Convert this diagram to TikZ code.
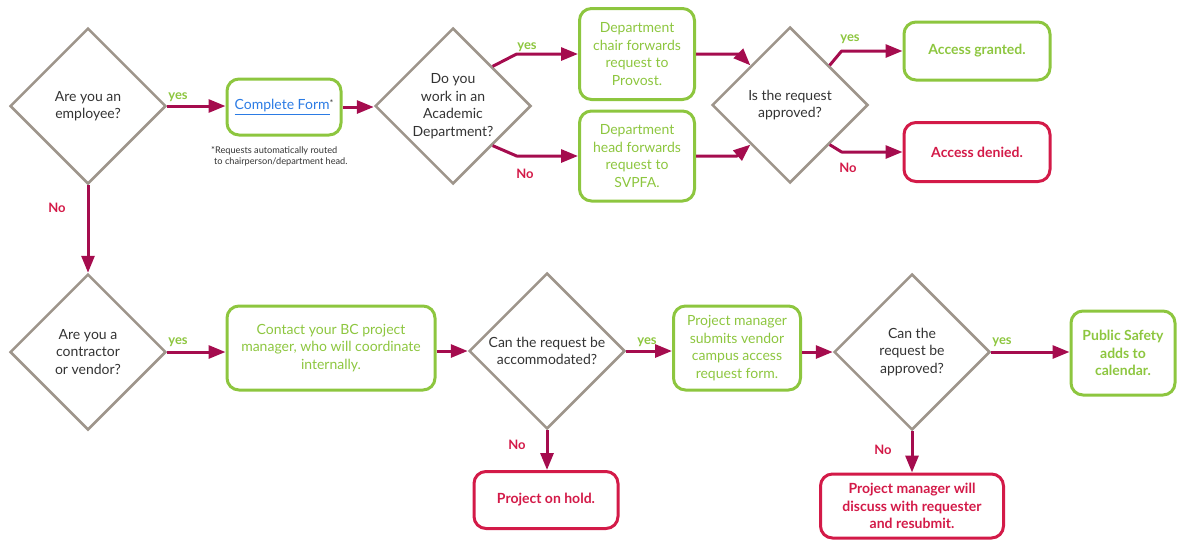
\documentclass[tikz,border=0pt]{standalone}
\usepackage{fontspec}
\setmainfont{Lato}
\usetikzlibrary{shapes.geometric,arrows.meta}
\definecolor{leafgreen}{HTML}{8DC63F}
\definecolor{alertred}{HTML}{D31A48}
\definecolor{wine}{HTML}{A50C4E}
\definecolor{stonegray}{HTML}{9E958B}
\definecolor{inkgray}{HTML}{333333}
\definecolor{linkblue}{HTML}{2B7BE4}
\newcommand\flowsize{\fontsize{14}{17.5}\selectfont}
\tikzset{
  decision/.style={diamond, draw=stonegray, line width=2.5pt, aspect=1, inner sep=0pt,
    minimum width=156pt, minimum height=156pt, align=center, text=inkgray},
  stepbox/.style={draw=leafgreen, line width=3pt, rounded corners=12pt, align=center,
    text=leafgreen, inner sep=2pt},
  stopbox/.style={draw=alertred, line width=3pt, rounded corners=12pt, align=center,
    text=alertred, font=\flowsize\bfseries, inner sep=2pt},
  flow/.style={draw=wine, line width=3pt, line join=round, -{Triangle[length=17pt,width=13pt]}},
  yeslabel/.style={text=leafgreen, font=\fontsize{13}{15}\selectfont\bfseries},
  nolabel/.style={text=alertred, font=\fontsize{13}{15}\selectfont\bfseries},
}
\begin{document}
\begin{tikzpicture}[x=1pt, y=-1pt, font=\flowsize]
	\useasboundingbox (0,0) rectangle (1178,541);
	% employee branch
	\node[decision] (employee) at (88,106) {Are you an\\employee?};
	\node[stepbox, minimum width=114pt, minimum height=56pt] (form) at (284,107)
		{\textcolor{linkblue}{\underline{Complete Form}}\textcolor{inkgray}{\raisebox{3pt}{\small*}}};
	\node[anchor=north west, align=left, text=inkgray, inner sep=0pt,
		font=\fontsize{9.2}{11.5}\selectfont] (note) at (211,146)
		{*Requests automatically routed\\\hspace{3pt}to chairperson/department head.};
	\node[decision] (dept) at (453,106) {Do you\\work in an\\Academic\\Department?};
	\node[stepbox, minimum width=115pt, minimum height=91pt] (chair) at (637,54)
		{Department\\chair forwards\\request to\\Provost.};
	\node[stepbox, minimum width=115pt, minimum height=90pt] (head) at (637,156)
		{Department\\head forwards\\request to\\SVPFA.};
	\node[decision] (approved) at (790,105) {Is the request\\approved?};
	\node[stepbox, font=\flowsize\bfseries, minimum width=146pt, minimum height=58pt] (granted) at (977,51)
		{Access granted.};
	\node[stopbox, minimum width=146pt, minimum height=59pt] (denied) at (977,152)
		{Access denied.};

	% contractor branch
	\node[decision] (contractor) at (88,352) {Are you a\\contractor\\or vendor?};
	\node[stepbox, minimum width=208pt, minimum height=84pt] (contact) at (331,348)
		{Contact your BC project\\manager, who will coordinate\\internally.};
	\node[decision] (accommodated) at (547,351) {Can the request be\\accommodated?};
	\node[stopbox, minimum width=144pt, minimum height=57pt] (hold) at (546,500)
		{Project on hold.};
	\node[stepbox, minimum width=127pt, minimum height=84pt] (submits) at (737,348)
		{Project manager\\submits vendor\\campus access\\request form.};
	\node[decision] (approvable) at (912,352) {Can the\\request be\\approved?};
	\node[stepbox, font=\flowsize\bfseries, minimum width=104pt, minimum height=84pt] (safety) at (1123,353)
		{Public Safety\\adds to\\calendar.};
	\node[stopbox, minimum width=183pt, minimum height=64pt] (resubmit) at (912,506)
		{Project manager will\\discuss with requester\\and resubmit.};

	% connectors
	\draw[flow] (employee.east) -- (employee.east -| form.west);
	\draw[flow] (form.east) -- (form.east -| dept.west);
	\draw[flow] (dept.north east) -- ([xshift=24pt]dept.north east |- chair.west) -- (chair.west);
	\draw[flow] (dept.south east) -- ([xshift=24pt]dept.south east |- head.west) -- (head.west);
	\draw[flow] (chair.east) -- ++(43,0) -- (approved.north west);
	\draw[flow] (head.east) -- ++(41,0) -- (approved.south west);
	\draw[flow] (approved.north east) -- ([xshift=12pt]approved.north east |- granted.west) -- (granted.west);
	\draw[flow] (approved.south east) -- ([xshift=12pt]approved.south east |- denied.west) -- (denied.west);
	\draw[flow] (employee.south) -- (contractor.north);
	\draw[flow] (contractor.east) -- (contractor.east -| contact.west);
	\draw[flow] (contact.east |- accommodated.west) -- (accommodated.west);
	\draw[flow] (accommodated.south) -- (accommodated.south |- hold.north);
	\draw[flow] (accommodated.east) -- (accommodated.east -| submits.west);
	\draw[flow] (submits.east |- approvable.west) -- (approvable.west);
	\draw[flow] (approvable.east) -- (approvable.east -| safety.west);
	\draw[flow] (approvable.south) -- (approvable.south |- resubmit.north);

	% labels
	\node[yeslabel] (yes1) at (178,97) {yes};
	\node[nolabel] (no1) at (57,208) {No};
	\node[yeslabel] (yes2) at (527,47) {yes};
	\node[nolabel] (no2) at (525,174) {No};
	\node[yeslabel] (yes3) at (850,39) {yes};
	\node[nolabel] (no3) at (848,168) {No};
	\node[yeslabel] (yes4) at (178,342) {yes};
	\node[yeslabel] (yes5) at (647,342) {yes};
	\node[nolabel] (no5) at (517,445) {No};
	\node[yeslabel] (yes6) at (1002,342) {yes};
	\node[nolabel] (no6) at (883,450) {No};
\end{tikzpicture}
\end{document}
